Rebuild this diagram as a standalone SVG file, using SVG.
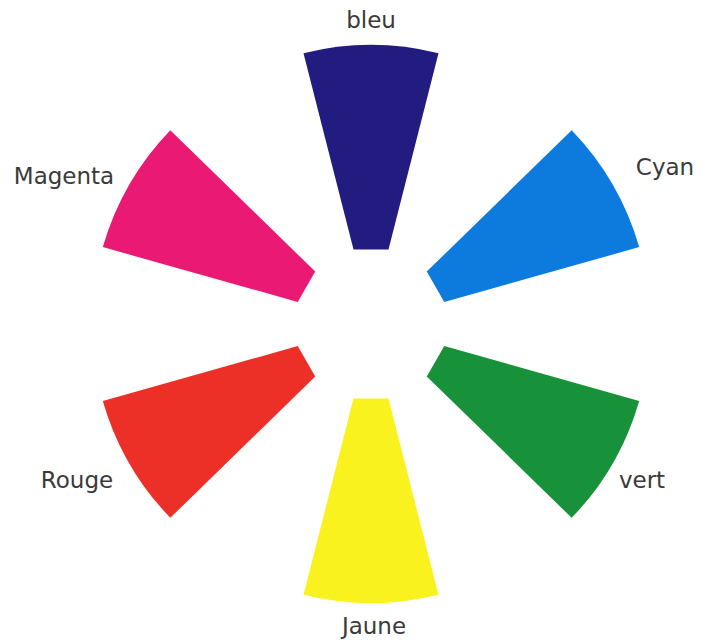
<svg xmlns="http://www.w3.org/2000/svg" width="713" height="640" viewBox="0 0 713 640">
  <style>
    .lbl { font-family: "DejaVu Sans", Verdana, sans-serif; font-size: 23px; fill: #3a3a3a; text-anchor: middle; }
  </style>
  <defs>
    <path id="sector" d="M -67.5 -270.71 A 279 279 0 0 1 67.5 -270.71 L 17.5 -74.5 L -17.5 -74.5 Z"/>
  </defs>
  <rect width="713" height="640" fill="#ffffff"/>
  <g id="bleu">
    <use href="#sector" transform="translate(371,324) rotate(0)" fill="#221b80"/>
    <text class="lbl" x="371" y="28">bleu</text>
  </g>
  <g id="cyan">
    <use href="#sector" transform="translate(371,324) rotate(60)" fill="#0d7ade"/>
    <text class="lbl" x="665" y="175">Cyan</text>
  </g>
  <g id="vert">
    <use href="#sector" transform="translate(371,324) rotate(120)" fill="#17923a"/>
    <text class="lbl" x="642" y="488">vert</text>
  </g>
  <g id="jaune">
    <use href="#sector" transform="translate(371,324) rotate(180)" fill="#f9f21f"/>
    <text class="lbl" x="374" y="634">Jaune</text>
  </g>
  <g id="rouge">
    <use href="#sector" transform="translate(371,324) rotate(240)" fill="#ec3027"/>
    <text class="lbl" x="77" y="488">Rouge</text>
  </g>
  <g id="magenta">
    <use href="#sector" transform="translate(371,324) rotate(300)" fill="#ea1a74"/>
    <text class="lbl" x="64" y="184">Magenta</text>
  </g>
  <g id="connectors"/>
</svg>
